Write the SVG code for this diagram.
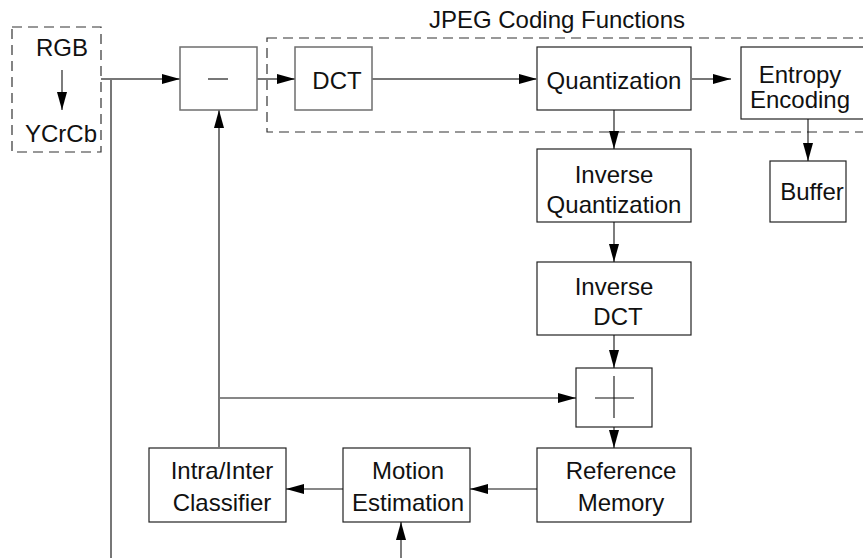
<svg xmlns="http://www.w3.org/2000/svg" width="863" height="558" viewBox="0 0 863 558">
  <style>
    .box { fill: #fff; stroke: #222; stroke-width: 1.2; }
    .gbox { fill: #fff; stroke: #6e6e6e; stroke-width: 1.5; }
    .dash { fill: none; stroke: #333; stroke-width: 1.2; stroke-dasharray: 10 6; }
    .ln { fill: none; stroke: #111; stroke-width: 1.1; }
    .gln { fill: none; stroke: #777; stroke-width: 2; }
    text { font-family: "Liberation Sans", Arial, sans-serif; font-size: 24px; fill: #111; text-anchor: middle; }
  </style>
  <defs>
    <marker id="ah" viewBox="0 0 18 10" refX="18" refY="5" markerWidth="18" markerHeight="10" markerUnits="userSpaceOnUse" orient="auto">
      <path d="M0,0 L18,5 L0,10 Z" fill="#000"/>
    </marker>
  </defs>

  <!-- colour conversion stage -->
  <g id="rgb-ycrcb">
    <rect class="dash" x="12" y="27" width="89" height="125"/>
    <text x="62" y="56">RGB</text>
    <text x="61" y="142">YCrCb</text>
    <line class="ln" x1="62" y1="70" x2="62" y2="110" marker-end="url(#ah)"/>
  </g>

  <!-- JPEG group frame -->
  <g id="jpeg-group">
    <rect class="dash" x="267" y="38" width="620" height="94"/>
    <text x="557" y="28">JPEG Coding Functions</text>
  </g>

  <g id="subtract">
    <rect class="gbox" x="180" y="47" width="77" height="63"/>
    <line class="gln" x1="208" y1="79" x2="228" y2="79"/>
  </g>

  <g id="dct">
    <rect class="gbox" x="295" y="47" width="77" height="63"/>
    <text x="337" y="89">DCT</text>
  </g>

  <g id="quantization">
    <rect class="box" x="537" y="47" width="154" height="63"/>
    <text x="614" y="89">Quantization</text>
  </g>

  <g id="entropy">
    <rect class="box" x="741" y="47" width="140" height="72"/>
    <text x="800" y="83">Entropy</text>
    <text x="800" y="108">Encoding</text>
  </g>

  <g id="buffer">
    <rect class="box" x="770" y="161" width="76" height="61"/>
    <text x="812" y="200">Buffer</text>
  </g>

  <g id="inverse-quantization">
    <rect class="box" x="537" y="149" width="154" height="73"/>
    <text x="614" y="183">Inverse</text>
    <text x="614" y="213">Quantization</text>
  </g>

  <g id="inverse-dct">
    <rect class="box" x="537" y="262" width="154" height="73"/>
    <text x="614" y="295">Inverse</text>
    <text x="618" y="325">DCT</text>
  </g>

  <g id="add">
    <rect class="box" x="576" y="368" width="76" height="59"/>
    <line class="ln" x1="595" y1="398" x2="634" y2="398"/>
    <line class="ln" x1="614" y1="376" x2="614" y2="418"/>
  </g>

  <g id="reference-memory">
    <rect class="box" x="537" y="448" width="154" height="74"/>
    <text x="621" y="479">Reference</text>
    <text x="621" y="511">Memory</text>
  </g>

  <g id="motion-estimation">
    <rect class="box" x="343" y="448" width="127" height="74"/>
    <text x="408" y="479">Motion</text>
    <text x="408" y="511">Estimation</text>
  </g>

  <g id="classifier">
    <rect class="box" x="149" y="448" width="137" height="74"/>
    <text x="222" y="479">Intra/Inter</text>
    <text x="222" y="511">Classifier</text>
  </g>

  <!-- connectors -->
  <g id="connectors">
    <line class="gln" x1="101" y1="79" x2="180" y2="79" marker-end="url(#ah)"/>
    <line class="gln" x1="111" y1="79" x2="111" y2="558"/>
    <line class="gln" x1="257" y1="79" x2="295" y2="79" marker-end="url(#ah)"/>
    <line class="gln" x1="372" y1="79" x2="537" y2="79" marker-end="url(#ah)"/>
    <line class="gln" x1="691" y1="79" x2="731" y2="79" marker-end="url(#ah)"/>
    <line class="ln" x1="808" y1="119" x2="808" y2="161" marker-end="url(#ah)"/>
    <line class="ln" x1="614" y1="110" x2="614" y2="149" marker-end="url(#ah)"/>
    <line class="ln" x1="614" y1="222" x2="614" y2="262" marker-end="url(#ah)"/>
    <line class="ln" x1="614" y1="335" x2="614" y2="368" marker-end="url(#ah)"/>
    <line class="ln" x1="614" y1="427" x2="614" y2="448" marker-end="url(#ah)"/>
    <line class="ln" x1="219" y1="398" x2="576" y2="398" marker-end="url(#ah)"/>
    <line class="gln" x1="219" y1="448" x2="219" y2="110" marker-end="url(#ah)"/>
    <line class="ln" x1="537" y1="489" x2="470" y2="489" marker-end="url(#ah)"/>
    <line class="ln" x1="343" y1="489" x2="286" y2="489" marker-end="url(#ah)"/>
    <line class="ln" x1="401" y1="558" x2="401" y2="522" marker-end="url(#ah)"/>
  </g>
</svg>
